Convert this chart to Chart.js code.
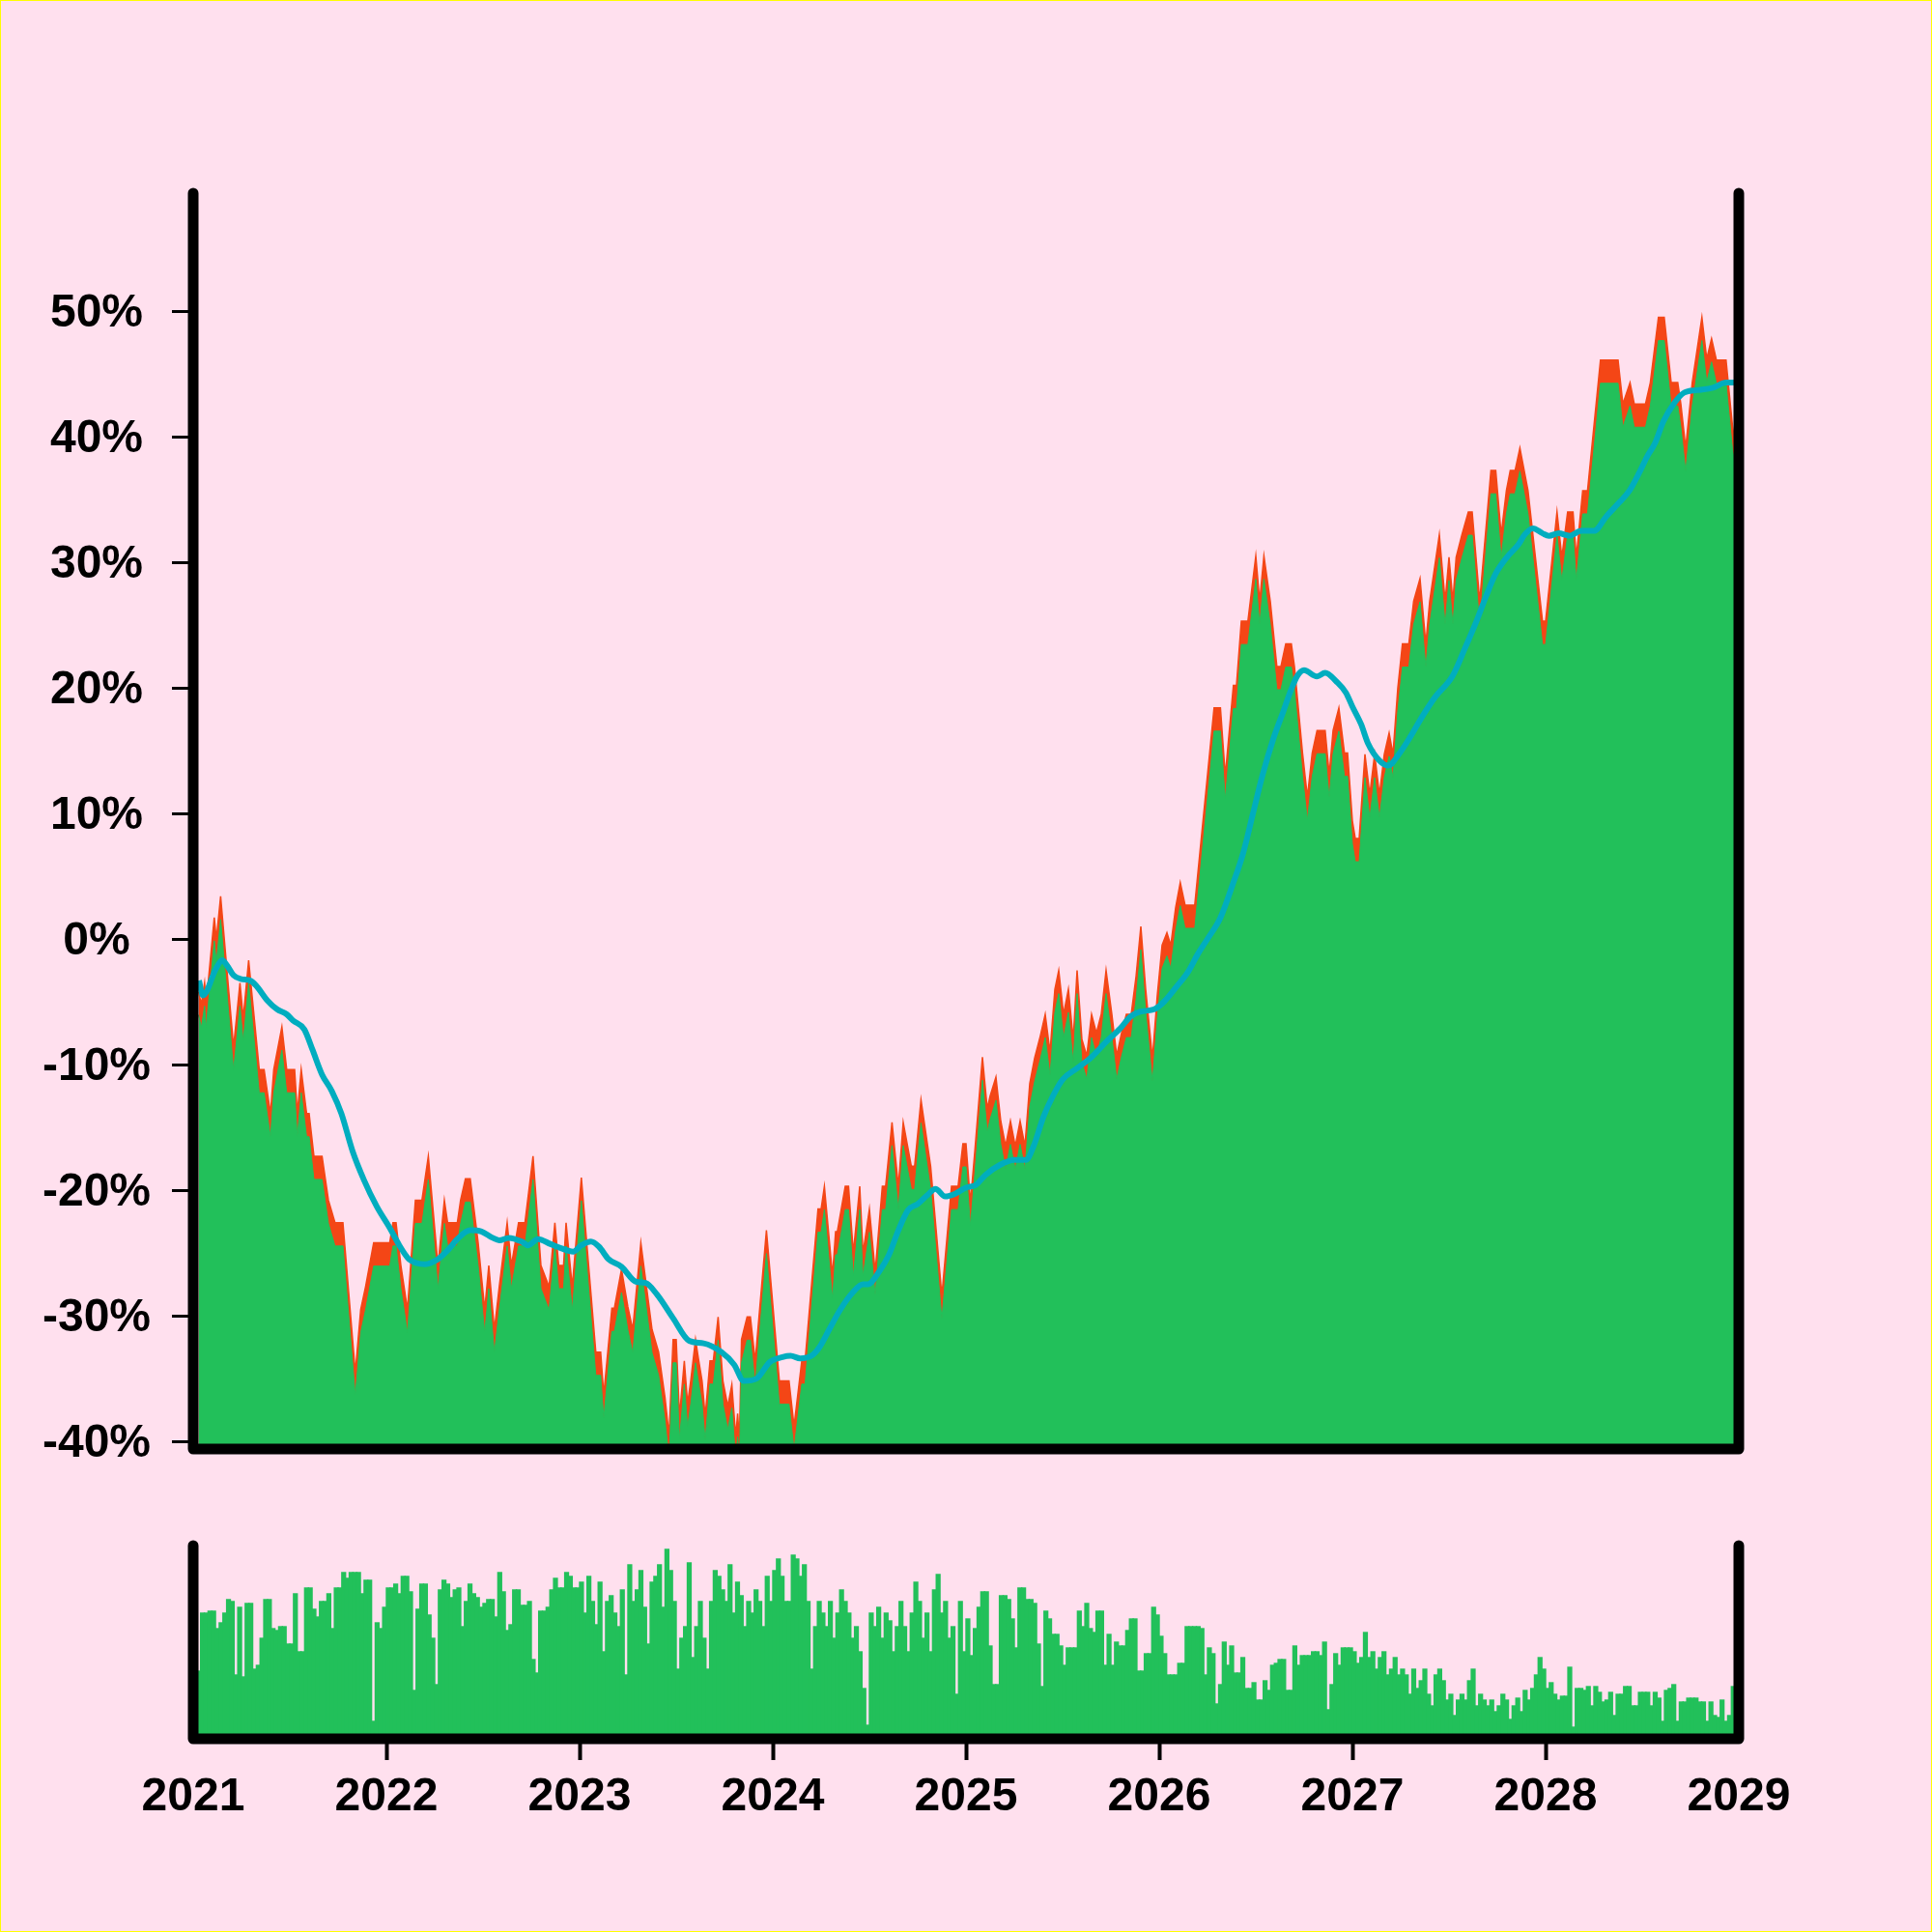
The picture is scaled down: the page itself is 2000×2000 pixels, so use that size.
<!DOCTYPE html>
<html>
<head>
<meta charset="utf-8">
<script src="https://cdn.jsdelivr.net/npm/chart.js@4.4.1/dist/chart.umd.min.js"></script>
<style>
  html, body { margin: 0; padding: 0; background: #ffe0ee; }
  #frame { position: relative; width: 2000px; height: 2000px; overflow: hidden; }
  #frame canvas { position: absolute; left: 0; }
  #edge { position: absolute; left: 0; top: 0; width: 2000px; height: 2000px; box-sizing: border-box; border: 1px solid #ffff00; pointer-events: none; }
</style>
</head>
<body>
<div id="frame">
  <canvas id="priceChart" width="2000" height="1560" style="top:0"></canvas>
  <canvas id="volumeChart" width="2000" height="460" style="top:1540px"></canvas>
  <div id="edge"></div>
</div>
<script>
// weekly series (x in decimal years, y in %)
const xTicks = [2021, 2022, 2023, 2024, 2025, 2026, 2027, 2028, 2029];
const yTicks = [-40, -30, -20, -10, 0, 10, 20, 30, 40, 50];

const priceYears = [
  2021.028, 2021.042, 2021.059, 2021.067, 2021.109, 2021.120, 2021.142, 2021.209, 2021.242, 2021.259, 2021.287, 2021.342,
  2021.367, 2021.400, 2021.417, 2021.459, 2021.484, 2021.525, 2021.539, 2021.559, 2021.587, 2021.600, 2021.625, 2021.667,
  2021.684, 2021.700, 2021.734, 2021.775, 2021.839, 2021.867, 2021.892, 2021.934,
  2022.017, 2022.034, 2022.050, 2022.075, 2022.109, 2022.150, 2022.184, 2022.217, 2022.267, 2022.300, 2022.317, 2022.367,
  2022.384, 2022.409, 2022.434, 2022.475, 2022.509, 2022.530, 2022.559, 2022.584, 2022.625, 2022.647, 2022.684, 2022.717,
  2022.759, 2022.800, 2022.842, 2022.872, 2022.892, 2022.917, 2022.930, 2022.962,
  2023.009, 2023.084, 2023.109, 2023.125, 2023.167, 2023.180, 2023.217, 2023.250, 2023.275, 2023.317, 2023.375, 2023.409,
  2023.442, 2023.463, 2023.484, 2023.500, 2023.517, 2023.542, 2023.559, 2023.575, 2023.600, 2023.617, 2023.634, 2023.650,
  2023.675, 2023.692, 2023.717, 2023.742, 2023.767, 2023.788, 2023.808, 2023.818, 2023.827, 2023.838, 2023.867, 2023.884,
  2023.909, 2023.967,
  2024.034, 2024.084, 2024.110, 2024.150, 2024.167, 2024.234, 2024.250, 2024.267, 2024.309, 2024.325, 2024.334, 2024.375,
  2024.392, 2024.417, 2024.450, 2024.467, 2024.500, 2024.530, 2024.567, 2024.584, 2024.617, 2024.650, 2024.675, 2024.717,
  2024.734, 2024.767, 2024.817, 2024.875, 2024.925, 2024.959, 2024.984,
  2025.000, 2025.023, 2025.045, 2025.085, 2025.110, 2025.125, 2025.155, 2025.180, 2025.205, 2025.230, 2025.255, 2025.280,
  2025.305, 2025.330, 2025.355, 2025.385, 2025.410, 2025.435, 2025.460, 2025.480, 2025.505, 2025.530, 2025.555, 2025.575,
  2025.600, 2025.625, 2025.650, 2025.675, 2025.700, 2025.725, 2025.755, 2025.780, 2025.805, 2025.830, 2025.855, 2025.880,
  2025.905, 2025.930, 2025.965, 2025.990,
  2026.015, 2026.040, 2026.060, 2026.085, 2026.109, 2026.134, 2026.184, 2026.284, 2026.317, 2026.342, 2026.384, 2026.400,
  2026.425, 2026.459, 2026.500, 2026.520, 2026.542, 2026.575, 2026.609, 2026.630, 2026.655, 2026.684, 2026.700, 2026.742,
  2026.767, 2026.792, 2026.817, 2026.859, 2026.880, 2026.900, 2026.930, 2026.959, 2026.975,
  2027.000, 2027.015, 2027.035, 2027.065, 2027.090, 2027.115, 2027.140, 2027.165, 2027.190, 2027.210, 2027.235, 2027.259,
  2027.292, 2027.317, 2027.350, 2027.380, 2027.400, 2027.450, 2027.480, 2027.500, 2027.520, 2027.537, 2027.567, 2027.600,
  2027.620, 2027.659, 2027.717, 2027.742, 2027.770, 2027.797, 2027.817, 2027.842, 2027.867, 2027.909, 2027.984,
  2028.000, 2028.059, 2028.084, 2028.114, 2028.142, 2028.159, 2028.192, 2028.217, 2028.284, 2028.375, 2028.400, 2028.437,
  2028.459, 2028.517, 2028.542, 2028.584, 2028.614, 2028.650, 2028.684, 2028.700, 2028.725, 2028.759, 2028.809, 2028.834,
  2028.859, 2028.884, 2028.934, 2028.967, 2029.000
];
const priceVals = [
  -4.2, -5.2, -3.5, -5.2, 1.7, 0.0, 3.4, -8.6, -3.5, -6.3, -1.7, -10.4,
  -10.4, -13.9, -10.4, -7.0, -10.4, -10.4, -13.9, -10.4, -13.9, -13.9, -17.3, -17.3,
  -19.1, -20.8, -22.6, -22.6, -34.5, -29.5, -27.7, -24.2,
  -24.2, -22.6, -22.6, -26.0, -29.5, -20.8, -20.8, -17.3, -26.0, -20.8, -22.6, -22.6,
  -20.8, -19.1, -19.1, -24.2, -29.5, -26.0, -31.1, -27.7, -22.6, -26.0, -22.6, -22.6,
  -17.3, -26.0, -27.7, -22.6, -26.0, -26.0, -22.6, -27.7,
  -19.0, -32.9, -32.9, -36.3, -29.4, -29.4, -26.3, -29.3, -31.1, -24.2, -31.1, -32.9,
  -36.5, -39.5, -31.9, -31.9, -38.0, -33.6, -37.0, -35.2, -31.9, -33.6, -35.2, -38.0,
  -33.6, -33.6, -30.1, -35.2, -37.2, -35.5, -39.6, -37.8, -40.0, -31.9, -30.1, -30.1,
  -33.6, -23.2,
  -35.2, -35.2, -38.8, -33.6, -33.6, -21.5, -21.5, -19.7, -26.8, -23.3, -23.3, -19.7,
  -19.7, -25.0, -19.7, -25.0, -21.5, -26.5, -19.7, -19.7, -14.6, -19.7, -14.6, -18.1,
  -18.1, -12.8, -18.1, -28.4, -19.7, -19.7, -16.3,
  -16.3, -21.0, -17.0, -9.4, -13.5, -12.5, -11.0, -14.5, -16.5, -14.5, -16.5, -14.5,
  -16.5, -11.5, -9.5, -7.7, -6.0, -9.0, -4.0, -2.5, -6.0, -4.0, -8.0, -2.5,
  -8.0, -9.3, -6.0, -7.5, -6.0, -2.5, -6.0, -9.3, -7.5, -6.0, -6.0, -3.0,
  1.0, -4.0, -9.5, -4.5,
  -0.5, 0.5, -0.5, 2.5, 4.5, 2.7, 2.7, 18.4, 18.4, 13.0, 20.2, 20.2,
  25.3, 25.3, 30.5, 26.9, 30.5, 26.9, 21.7, 21.7, 23.5, 23.5, 21.7, 14.8,
  11.3, 14.8, 16.6, 16.6, 13.1, 16.6, 18.4, 14.8, 14.8,
  9.4, 8.0, 8.0, 14.7, 11.5, 14.7, 11.5, 14.7, 16.4, 14.7, 20.0, 23.5,
  23.5, 26.9, 28.7, 23.5, 26.9, 32.2, 26.9, 30.4, 26.9, 30.4, 32.2, 34.0,
  34.0, 26.9, 37.3, 37.3, 32.2, 35.7, 37.3, 37.3, 39.1, 35.7, 25.3,
  25.3, 34.0, 30.4, 34.0, 34.0, 30.4, 35.7, 35.7, 46.1, 46.1, 42.6, 44.3,
  42.6, 42.6, 44.3, 49.5, 49.5, 44.3, 44.3, 42.6, 39.1, 44.3, 49.5, 46.2,
  47.8, 46.1, 46.1, 40.9, 37.5
];

// moving average (cyan)
const maYears = [
  2021.030, 2021.050, 2021.117, 2021.150, 2021.175, 2021.209, 2021.250, 2021.292, 2021.325, 2021.384, 2021.434,
  2021.484, 2021.517, 2021.575, 2021.617, 2021.667, 2021.717, 2021.767, 2021.825, 2021.884, 2021.950,
  2022.017, 2022.067, 2022.117, 2022.200, 2022.267, 2022.317, 2022.367, 2022.434, 2022.492, 2022.550, 2022.584,
  2022.634, 2022.700, 2022.734, 2022.784, 2022.850, 2022.900, 2022.967,
  2023.009, 2023.059, 2023.100, 2023.150, 2023.217, 2023.292, 2023.342, 2023.400, 2023.484, 2023.567, 2023.642,
  2023.734, 2023.800, 2023.850, 2023.917, 2023.984,
  2024.050, 2024.092, 2024.142, 2024.200, 2024.242, 2024.292, 2024.350, 2024.417, 2024.467, 2024.492, 2024.550,
  2024.600, 2024.650, 2024.700, 2024.750, 2024.800, 2024.842, 2024.892, 2024.942,
  2025.000, 2025.050, 2025.100, 2025.175, 2025.250, 2025.310, 2025.350, 2025.400, 2025.450, 2025.500, 2025.575,
  2025.650, 2025.725, 2025.800, 2025.850, 2025.900, 2025.975,
  2026.025, 2026.090, 2026.150, 2026.200, 2026.250, 2026.317, 2026.384, 2026.434, 2026.484, 2026.534, 2026.592,
  2026.642, 2026.684, 2026.717, 2026.750, 2026.817, 2026.859, 2026.917, 2026.967,
  2027.000, 2027.045, 2027.080, 2027.140, 2027.185, 2027.240, 2027.300, 2027.365, 2027.430, 2027.517, 2027.584,
  2027.642, 2027.692, 2027.742, 2027.800, 2027.859, 2027.892, 2027.934, 2027.984,
  2028.017, 2028.067, 2028.125, 2028.184, 2028.250, 2028.317, 2028.384, 2028.434, 2028.484, 2028.525, 2028.567,
  2028.609, 2028.667, 2028.717, 2028.784, 2028.867, 2028.934, 2028.975
];
const maVals = [
  -3.3, -4.5, -2.4, -1.7, -2.1, -2.9, -3.2, -3.3, -3.7, -4.9, -5.6,
  -6.0, -6.5, -7.2, -8.8, -10.8, -12.1, -13.9, -16.9, -19.2, -21.3,
  -23.0, -24.4, -25.5, -25.9, -25.5, -24.8, -23.9, -23.2, -23.3, -23.8, -24.0,
  -23.8, -24.1, -24.4, -23.9, -24.3, -24.6, -24.9,
  -24.4, -24.1, -24.5, -25.5, -26.1, -27.3, -27.4, -28.3, -30.2, -32.0, -32.2,
  -32.9, -33.9, -35.2, -35.0, -33.7,
  -33.3, -33.2, -33.4, -33.2, -32.5, -31.1, -29.5, -28.1, -27.5, -27.5, -26.5,
  -25.2, -23.2, -21.6, -21.1, -20.4, -19.9, -20.5, -20.3,
  -19.8, -19.6, -18.8, -18.0, -17.6, -17.6, -16.5, -14.2, -12.5, -11.2, -10.3,
  -9.4, -8.2, -7.1, -6.2, -5.8, -5.6,
  -5.0, -3.8, -2.6, -1.2, 0.0, 1.7, 4.5, 6.8, 9.9, 13.0, 16.0,
  18.1, 19.9, 21.0, 21.4, 20.9, 21.2, 20.5, 19.6,
  18.5, 17.1, 15.6, 14.2, 13.8, 14.7, 16.1, 17.8, 19.3, 20.9, 23.2,
  25.3, 27.3, 29.1, 30.4, 31.4, 32.2, 32.7, 32.3,
  32.1, 32.3, 32.1, 32.5, 32.5, 33.7, 34.8, 35.7, 37.1, 38.4, 39.5,
  41.2, 42.7, 43.5, 43.7, 43.9, 44.3, 44.3
];

// weekly volume, relative units (100 = top of lower panel)
const volVals = [
  35, 35, 65, 65, 66, 66, 57, 60, 65, 72, 71, 33, 68, 32, 70, 70, 36, 38, 52, 72,
  72, 57, 56, 58, 58, 49, 49, 75, 45, 45, 78, 78, 67, 63, 71, 71, 75, 57, 78, 78,
  86, 83, 86, 86, 86, 75, 82, 82, 9, 60, 57, 68, 78, 78, 80, 75, 84, 84, 76, 25,
  67, 80, 80, 64, 52, 28, 77, 82, 80, 73, 77, 78, 58, 71, 80, 75, 73, 68, 70, 72,
  72, 63, 86, 76, 56, 59, 77, 77, 69, 69, 71, 41, 34, 66, 66, 68, 77, 83, 78, 78,
  86, 84, 78, 78,
  81, 65, 84, 71, 59, 81, 45, 71, 74, 65, 58, 77, 33, 90, 71, 77, 87, 68, 49, 81,
  84, 90, 68, 98, 87, 71, 36, 52, 58, 91, 42, 58, 71, 52, 36, 71, 87, 84, 77, 71,
  90, 65, 81, 74, 58, 71, 65, 77, 71, 58, 84, 71, 87, 93, 84, 71, 71, 95, 93, 84,
  90, 71, 36, 58, 71, 65, 58, 71, 52, 65, 77, 71, 65, 52, 58, 45, 26, 7, 65, 58,
  68, 52, 65, 61, 45, 58, 71, 58, 45, 65, 81, 71, 52, 65, 45, 77, 85, 65, 71, 52,
  58, 23, 71, 45,
  62, 43, 57, 68, 76, 76, 48, 28, 28, 74, 74, 72, 62, 47, 78, 78, 72, 72, 70, 49,
  27, 66, 62, 54, 54, 48, 38, 47, 47, 47, 66, 58, 70, 57, 55, 66, 66, 38, 54, 38,
  50, 48, 48, 56, 62, 62, 35, 35, 44, 44, 68, 64, 53, 44, 33, 33, 33, 39, 39, 58,
  58, 58, 58, 57, 33, 47, 44, 18, 28, 50, 38, 48, 34, 34, 42, 26, 26, 29, 20, 20,
  30, 25, 38, 39, 41, 41, 25, 25, 48, 38, 43, 43, 43, 45, 45, 43, 50, 15, 28, 44,
  38, 47, 47, 47,
  45, 39, 42, 55, 42, 45, 36, 42, 45, 33, 36, 42, 33, 36, 33, 23, 36, 26, 30, 36,
  23, 17, 33, 36, 30, 20, 23, 12, 20, 23, 20, 30, 36, 17, 23, 20, 17, 20, 14, 17,
  23, 20, 10, 17, 21, 14, 25, 20, 26, 33, 42, 36, 26,
  29, 23, 20, 22, 22, 37, 6, 26, 26, 25, 27, 17, 27, 24, 19, 20, 24, 12, 23, 23,
  27, 27, 17, 17, 24, 24, 24, 17, 24, 21, 9, 25, 26, 28, 9, 19, 19, 21, 21, 21,
  19, 19, 9, 19, 12, 11, 20, 9, 12, 27, 27
];

const GREEN = '#22c05a';
const ORANGE = '#f44616';
const CYAN = '#00adbf';
const Y_MIN = -40.615, Y_MAX = 59.385;
const BAND = 1.85; // the green layer sits one price step under the orange one
const labelFont = { family: "'Liberation Sans', Arial, Helvetica, sans-serif", weight: 'bold', size: 48 };

const X_MIN = xTicks[0], X_MAX = xTicks[xTicks.length - 1];
const priceData = priceYears.map((x, i) => ({ x, y: priceVals[i] }));
const maData = maYears.map((x, i) => ({ x, y: maVals[i] }));
const volData = volVals.map((y, i) => ({ x: X_MIN + (i + 0.5) * (X_MAX - X_MIN) / volVals.length, y }));

// thick black frame with rounded ends
const spines = {
  id: 'spines',
  afterDatasetsDraw(chart) {
    const { ctx, chartArea: a } = chart;
    ctx.save();
    ctx.strokeStyle = '#000';
    ctx.lineWidth = 11;
    ctx.lineCap = 'round';
    ctx.lineJoin = 'round';
    ctx.beginPath();
    ctx.moveTo(a.left, a.top);
    ctx.lineTo(a.left, a.bottom);
    ctx.lineTo(a.right, a.bottom);
    ctx.lineTo(a.right, a.top);
    ctx.stroke();
    ctx.restore();
  }
};

new Chart(document.getElementById('priceChart'), {
  type: 'line',
  data: {
    datasets: [
      { data: maData, borderColor: CYAN, borderWidth: 6, pointRadius: 0, fill: false,
        cubicInterpolationMode: 'monotone', order: 0, yAxisID: 'y' },
      { data: priceData, backgroundColor: GREEN, borderColor: GREEN, borderWidth: 1, pointRadius: 0,
        fill: 'start', order: 1, yAxisID: 'yBand' },
      { data: priceData, backgroundColor: ORANGE, borderColor: ORANGE, borderWidth: 1.5, pointRadius: 0,
        fill: 'start', order: 2, yAxisID: 'y' }
    ]
  },
  options: {
    responsive: false,
    animation: false,
    devicePixelRatio: 1,
    layout: { padding: { left: 0, right: 200, top: 200, bottom: 60 } },
    plugins: { legend: { display: false }, tooltip: { enabled: false } },
    scales: {
      x: { type: 'linear', min: X_MIN, max: X_MAX, display: false },
      y: {
        type: 'linear', position: 'left', min: Y_MIN, max: Y_MAX,
        afterFit: s => { s.width = 200; },
        afterBuildTicks: s => { s.ticks = yTicks.map(v => ({ value: v })); },
        border: { display: false },
        grid: { drawOnChartArea: false, drawTicks: true, tickLength: 22, tickWidth: 3, tickColor: '#000' },
        ticks: { color: '#000', font: labelFont, padding: 22, crossAlign: 'center', autoSkip: false,
                 labelOffset: 3, callback: v => v + '%' }
      },
      yBand: { type: 'linear', display: false, min: Y_MIN + BAND, max: Y_MAX + BAND }
    }
  },
  plugins: [spines]
});

new Chart(document.getElementById('volumeChart'), {
  type: 'bar',
  data: {
    datasets: [
      { data: volData, backgroundColor: GREEN, borderWidth: 0, barPercentage: 1, categoryPercentage: 1,
        inflateAmount: 0.7 }
    ]
  },
  options: {
    responsive: false,
    animation: false,
    devicePixelRatio: 1,
    layout: { padding: { left: 200, right: 200, top: 60, bottom: 100 } },
    plugins: { legend: { display: false }, tooltip: { enabled: false } },
    scales: {
      x: {
        type: 'linear', min: X_MIN, max: X_MAX, offset: false,
        afterFit: s => { s.height = 100; },
        afterBuildTicks: s => { s.ticks = xTicks.map(v => ({ value: v })); },
        border: { display: false },
        grid: {
          offset: false, drawOnChartArea: false, drawTicks: true, tickLength: 22, tickWidth: 4,
          tickColor: c => (c.index === 0 || c.index === xTicks.length - 1) ? 'rgba(0,0,0,0)' : '#000'
        },
        ticks: { color: '#000', font: labelFont, padding: 10, maxRotation: 0, autoSkip: false,
                 callback: v => String(v) }
      },
      y: { display: false, min: 0, max: 100 }
    }
  },
  plugins: [spines]
});
</script>
</body>
</html>
